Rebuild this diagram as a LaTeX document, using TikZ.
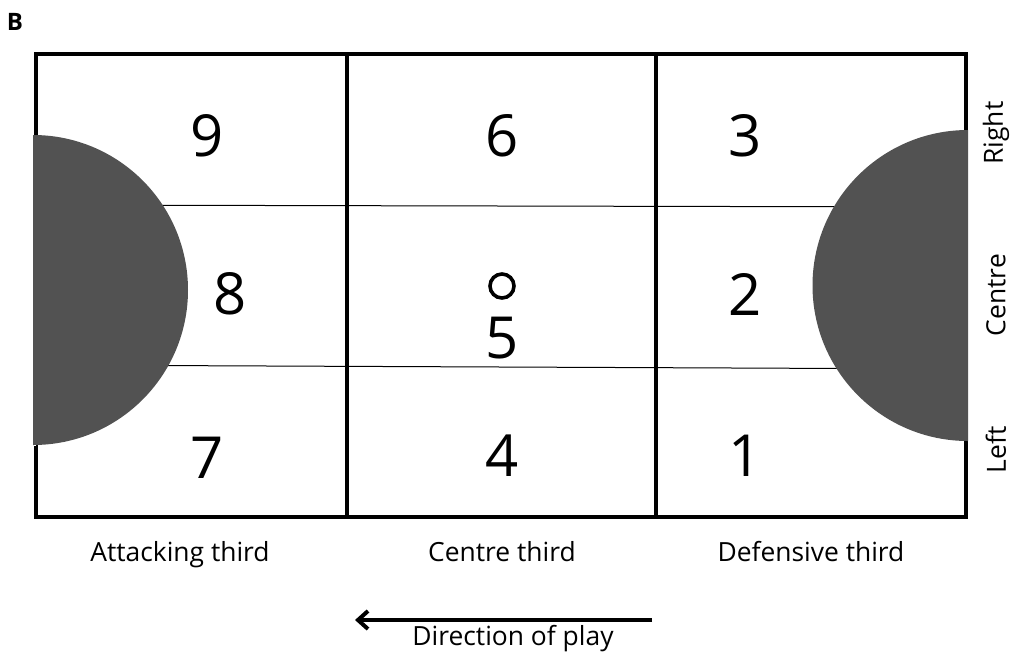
\documentclass[tikz,border=0pt]{standalone}
\usepackage{fontspec}
\setmainfont{Open Sans}
\usetikzlibrary{arrows.meta}
\tikzset{
  zone/.style={font=\fontsize{29}{32}\selectfont, inner sep=0pt},
  tag/.style={font=\fontsize{13.2}{15}\selectfont, inner sep=0pt},
  circ/.style={fill=black!68, draw=none}
}
\begin{document}
\begin{tikzpicture}[x=0.5pt, y=-0.5pt]
    \useasboundingbox (0,0) rectangle (1018,660);
    % zone lines
    \draw[line width=0.5pt] (36,205) -- (966,207);
    \draw[line width=0.5pt] (36,365) -- (966,369);
    % court
    \draw[line width=2pt] (36,54) rectangle (966,517);
    \draw[line width=1.6pt] (347,54) -- (347,517);
    \draw[line width=1.6pt] (656,54) -- (656,517);
    % goal circles
    \fill[white] (30,135) rectangle (36,446);
    \fill[white] (966,130) rectangle (972,441);
    \fill[circ] (33,135) arc (-90:90:155) -- cycle;
    \fill[circ] (968,130) arc (-90:-270:155.5) -- cycle;
    % numbers
    \node[zone] (z9) at (207,136) {9};
    \node[zone] (z6) at (502,136) {6};
    \node[zone] (z3) at (745,136) {3};
    \node[zone] (z8) at (230,294) {8};
    \node[zone] (z5) at (502,338) {5};
    \node[zone] (z2) at (745,294) {2};
    \node[zone] (z7) at (207,458) {7};
    \node[zone] (z4) at (502,456) {4};
    \node[zone] (z1) at (745,456) {1};
    \draw[line width=1.8pt] (502,286) circle (6pt);
    % labels
    \node[tag, anchor=base] (att) at (180,561) {Attacking third};
    \node[tag, anchor=base] (cen) at (502,561) {Centre third};
    \node[tag, anchor=base] (def) at (811,561) {Defensive third};
    \node[tag, rotate=90] (rgt) at (996,133) {Right};
    \node[tag, rotate=90] (ctr) at (996,295) {Centre};
    \node[tag, rotate=90] (lft) at (996,450) {Left};
    \node[font=\fontsize{12}{14}\selectfont\bfseries, inner sep=0pt] (lbl) at (15,22) {B};
    % direction
    \coordinate (a1) at (652,620);
    \coordinate (a2) at (355,620);
    \draw[line width=2pt, -{Straight Barb[length=5pt, width=9pt]}] (a1) -- (a2);
    \node[tag, anchor=base] (dir) at (513,645) {Direction of play};
\end{tikzpicture}
\end{document}
